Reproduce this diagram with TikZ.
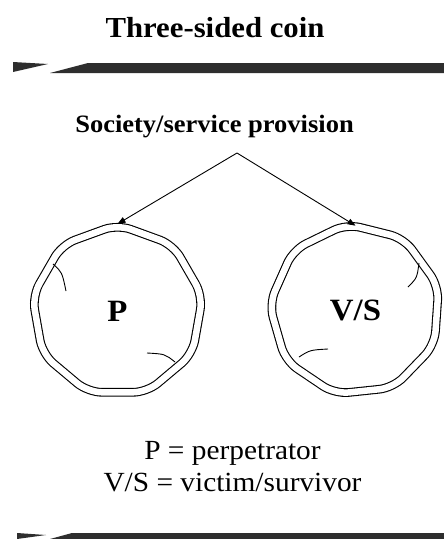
\documentclass[tikz,border=0pt]{standalone}
\usepackage{fontspec}
\setmainfont{Liberation Serif}[FakeStretch=1.06]
\usetikzlibrary{arrows.meta,shapes.geometric}

\begin{document}
\begin{tikzpicture}[x=1pt, y=-1pt,
  bar/.style={fill=black!82},
  coin/.style={draw, double, line width=1.1pt, double distance=6.5pt, regular polygon, regular polygon sides=9,
    minimum size=173pt, rounded corners=14pt, font=\fontsize{31}{32}\selectfont\bfseries},
  head/.style={anchor=base, font=\fontsize{29}{32}\selectfont\bfseries},
  key/.style={anchor=base, font=\fontsize{27.7}{30}\selectfont},
  nick/.style={line width=0.9pt},
  >={Triangle[length=8pt, width=6pt]}]
\useasboundingbox[fill=white] (0,0) rectangle (444,539);
\node[head] (title) at (215,37) {Three-sided coin};
\node[head, font=\fontsize{25}{28}\selectfont\bfseries] (soc) at (214.5,132) {Society/service provision};
\fill[bar] (13,62) -- (48,64) -- (13,72) -- cycle;
\fill[bar] (50,73) -- (88,63) -- (444,63) -- (444,73) -- cycle;
\fill[bar] (17,533) -- (46,535) -- (17,539) -- cycle;
\fill[bar] (50,539) -- (72,533) -- (444,533) -- (444,539) -- cycle;
\node[coin] (pc) at (117.5,311) {P};
\node[coin, shape border rotate=6] (vs) at (355.5,310) {V/S};
\coordinate (apex) at (237,153);
\draw[->, line width=0.9pt] (apex) -- (pc.north);
\draw[->, line width=0.9pt] (apex) -- (vs.north);
\draw[nick] (53,264) .. controls (62,272) .. (66,291);
\draw[nick] (147,353) .. controls (165,354) .. (175,362);
\draw[nick] (419,263) .. controls (417,278) .. (408,287);
\draw[nick] (299,357) .. controls (310,350) .. (328,349);
\node[key] (k1) at (232.5,459) {P = perpetrator};
\node[key] (k2) at (232.5,491) {V/S = victim/survivor};
\end{tikzpicture}
\end{document}
